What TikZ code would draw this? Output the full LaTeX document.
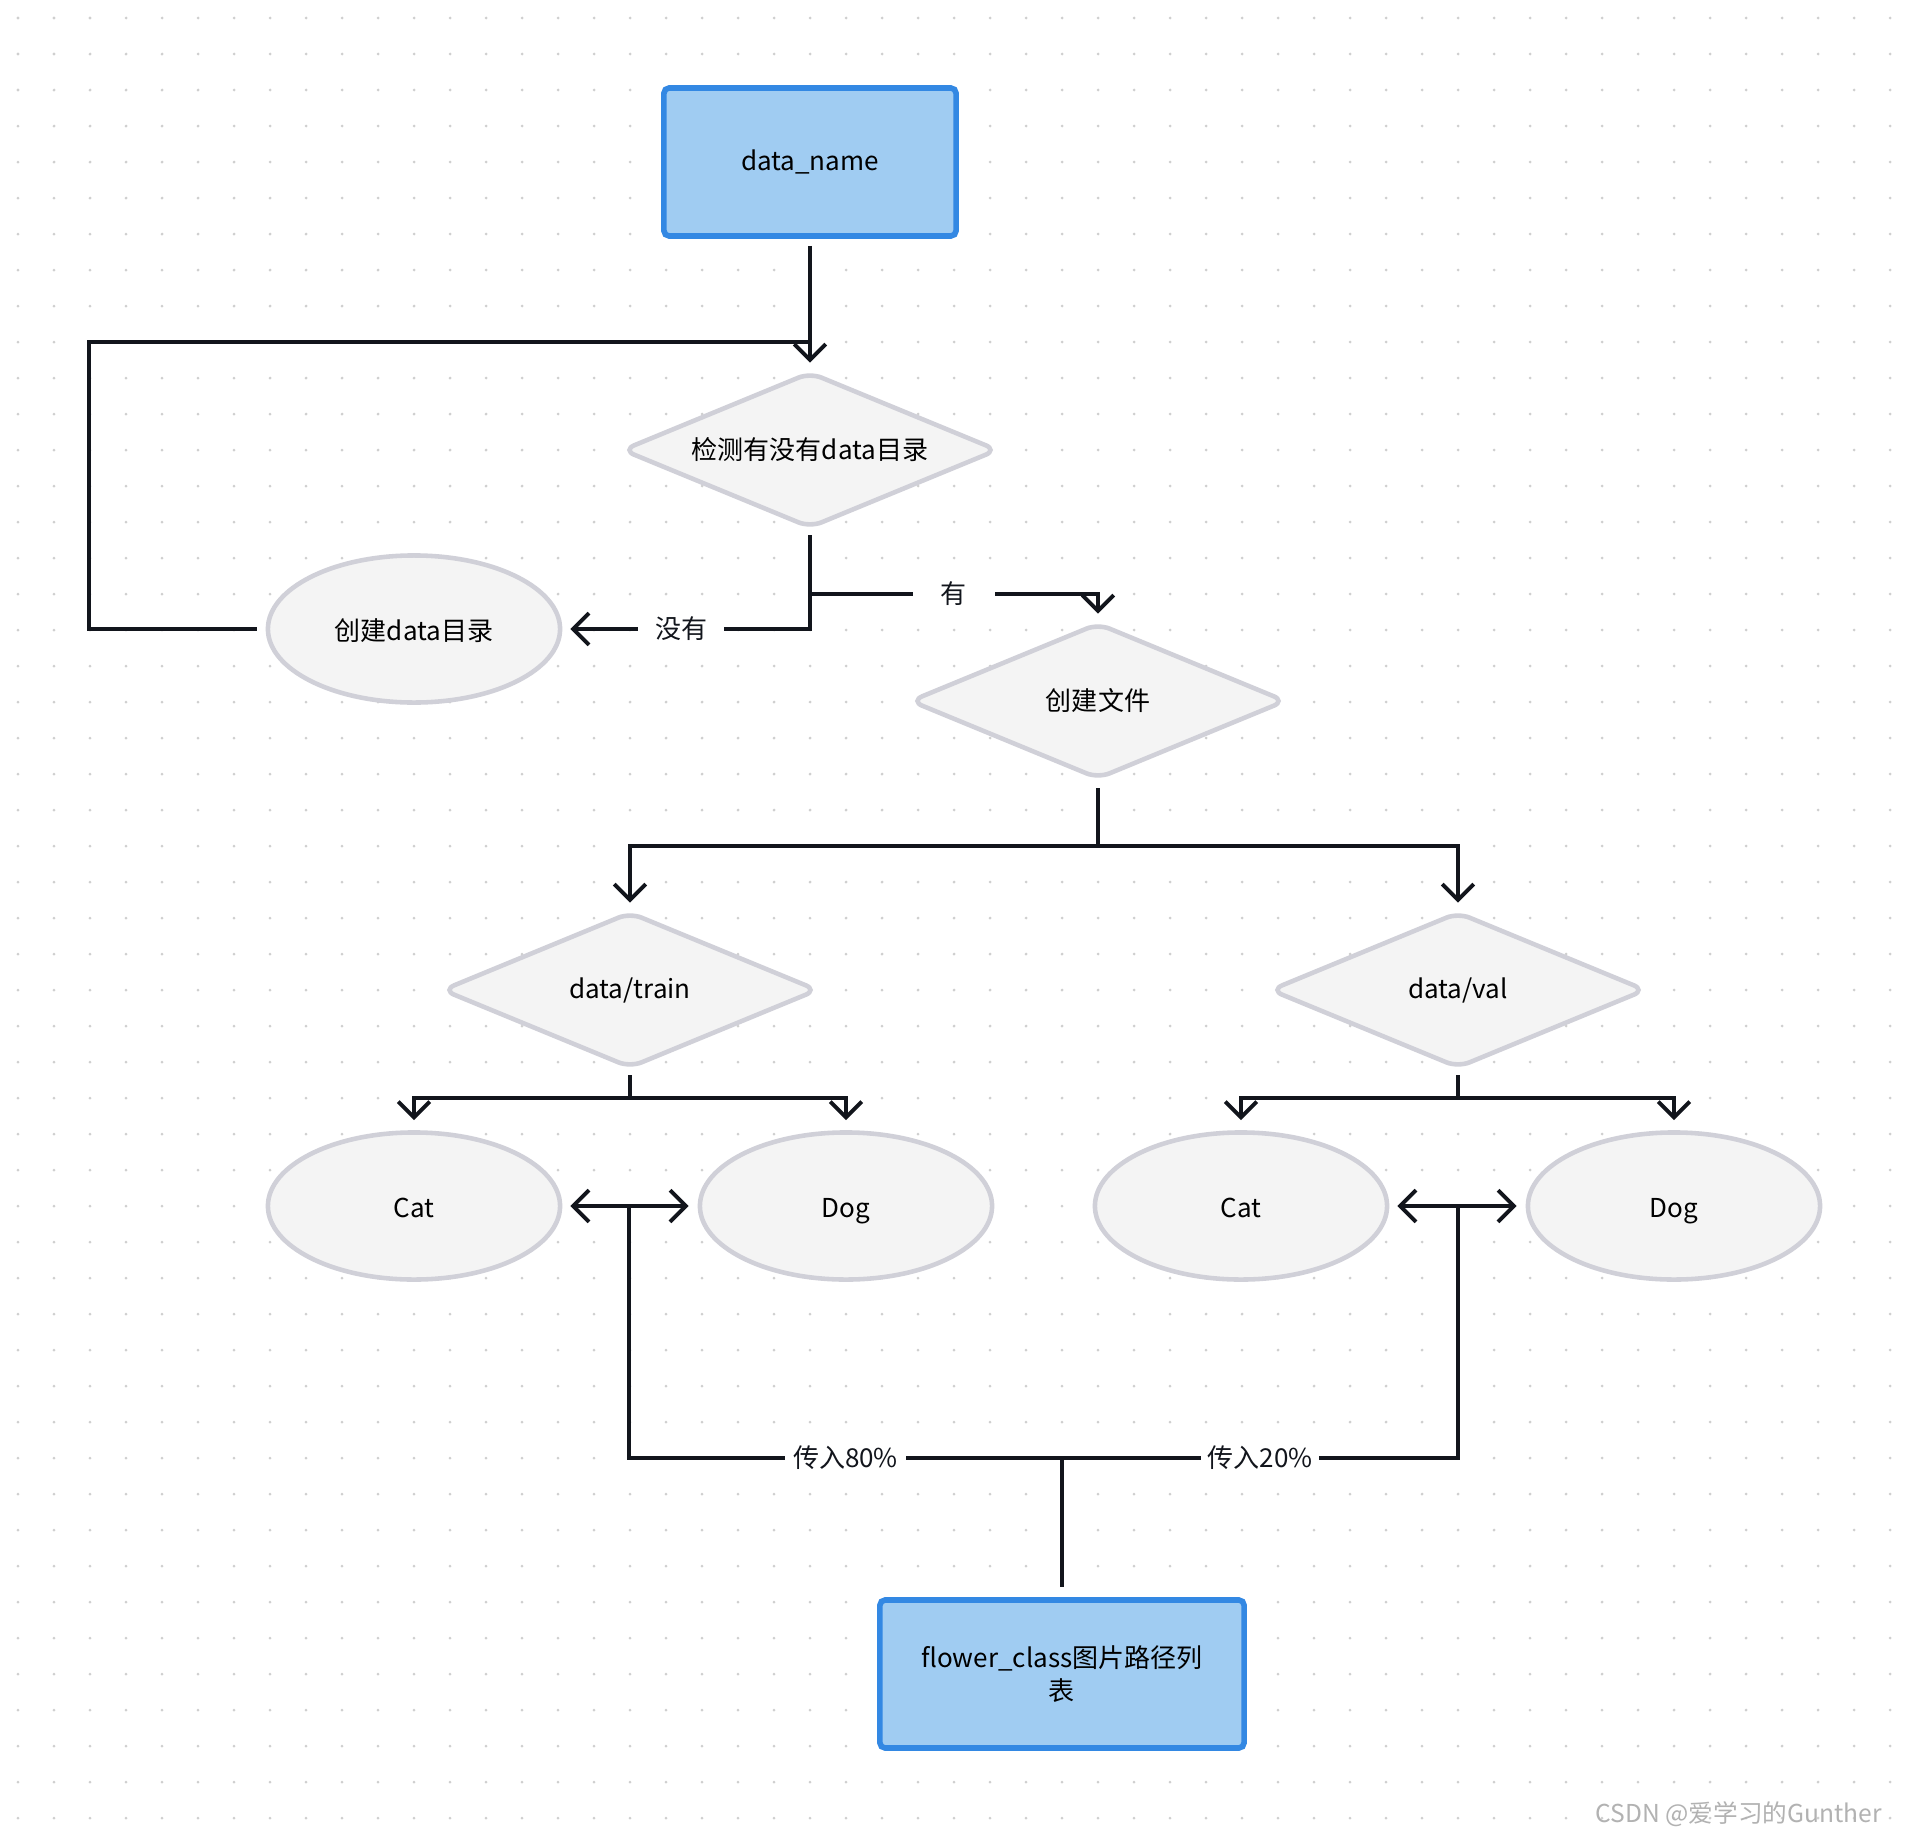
\documentclass[tikz,border=0pt]{standalone}
\usepackage{fontspec}
\setmainfont{Noto Sans CJK SC}
\usetikzlibrary{shapes.geometric,arrows.meta}

\definecolor{boxfill}{HTML}{A0CCF2}
\definecolor{boxline}{HTML}{3388E3}
\definecolor{shapefill}{HTML}{F4F4F4}
\definecolor{shapeline}{HTML}{D0D0D8}
\definecolor{linec}{HTML}{12151C}
\definecolor{dotc}{HTML}{CFCFCF}

\begin{document}
\begin{tikzpicture}[x=0.01cm, y=-0.01cm,
    font=\fontsize{7.4}{9.6}\selectfont,
    blue box/.style={draw=boxline, fill=boxfill, line width=1.6pt, rounded corners=1.5pt,
        minimum width=2.92cm, minimum height=1.48cm, align=center},
    decision/.style={diamond, draw=shapeline, fill=shapefill, line width=1.3pt, aspect=2.4,
        inner sep=0pt, minimum width=3.76cm, minimum height=1.56cm, rounded corners=3.5pt},
    oval/.style={ellipse, draw=shapeline, fill=shapefill, line width=1.3pt,
        minimum width=2.92cm, minimum height=1.47cm, text height=1.6ex, text depth=0.4ex},
    conn/.style={draw=linec, line width=1.1pt},
    arr/.style={conn, -{Straight Barb[length=4.5pt,width=9pt]}},
    darr/.style={conn, {Straight Barb[length=4.5pt,width=9pt]}-{Straight Barb[length=4.5pt,width=9pt]}},
    lbl/.style={fill=white, inner ysep=1pt, text=linec}]

% canvas with dots
\fill[white] (0,0) rectangle (1908,1836);
\useasboundingbox (0,0) rectangle (1908,1836);
\foreach \i in {0,...,52}
    \foreach \j in {0,...,50}
        \fill[dotc] (18+36*\i,18+36*\j) circle (0.015cm);

% nodes
\node[blue box] (name) at (810,162) {data\_name};
\node[decision] (chk) at (810,450) {检测有没有data目录};
\node[oval] (mkdir) at (414,629) {创建data目录};
\node[decision] (mkfile) at (1098,701) {创建文件};
\node[decision] (train) at (630,990) {data/train};
\node[decision] (val) at (1458,990) {data/val};
\node[oval] (cat1) at (414,1206) {Cat};
\node[oval] (dog1) at (846,1206) {Dog};
\node[oval] (cat2) at (1241,1206) {Cat};
\node[oval] (dog2) at (1674,1206) {Dog};
\node[blue box, minimum width=3.64cm] (list) at (1062,1674) {flower\_class图片路径列\\表};

\coordinate (loop) at (89,342);
\coordinate (yes) at (810,594);
\coordinate (fork) at (1098,846);
\coordinate (tfork) at (630,1098);
\coordinate (vfork) at (1458,1098);
\coordinate (tmid) at (629,1206);
\coordinate (vmid) at (1458,1206);
\coordinate (base) at (1062,1458);

% connectors
\draw[arr, shorten <=0.07cm, shorten >=0.07cm] (name.south) -- (chk.north);
\draw[conn, shorten <=0.09cm] (mkdir.west) -| (loop) -- (loop -| chk.north);
\draw[arr, shorten <=0.05cm, shorten >=0.08cm] (chk.south) |- node[lbl, pos=0.76, inner xsep=0.17cm] {没有} (mkdir.east);
\draw[arr, shorten >=0.07cm] (yes) -| node[lbl, pos=0.25, inner xsep=0.28cm] {有} (mkfile.north);

\draw[conn, shorten <=0.07cm] (mkfile.south) -- (fork);
\draw[arr, shorten >=0.07cm] (fork) -| (train.north);
\draw[arr, shorten >=0.07cm] (fork) -| (val.north);

\draw[conn, shorten <=0.05cm] (train.south) -- (tfork);
\draw[arr, shorten >=0.1cm] (tfork) -| (cat1.north);
\draw[arr, shorten >=0.1cm] (tfork) -| (dog1.north);
\draw[conn, shorten <=0.05cm] (val.south) -- (vfork);
\draw[arr, shorten >=0.1cm] (vfork) -| (cat2.north);
\draw[arr, shorten >=0.1cm] (vfork) -| (dog2.north);

\draw[darr, shorten <=0.08cm, shorten >=0.09cm] (cat1.east) -- (dog1.west);
\draw[darr, shorten <=0.08cm, shorten >=0.09cm] (cat2.east) -- (dog2.west);

\draw[conn] (tmid) |- node[lbl, pos=0.75, inner xsep=0.08cm] {传入80\%} (base);
\draw[conn] (vmid) |- node[lbl, pos=0.75, inner xsep=0.07cm] {传入20\%} (base);
\draw[conn, shorten >=0.1cm] (base) -- (list.north);

% watermark
\node[anchor=east, text=gray!60, font=\fontsize{7}{8}\selectfont] (mark) at (1894,1814) {CSDN @爱学习的Gunther};
\end{tikzpicture}
\end{document}
